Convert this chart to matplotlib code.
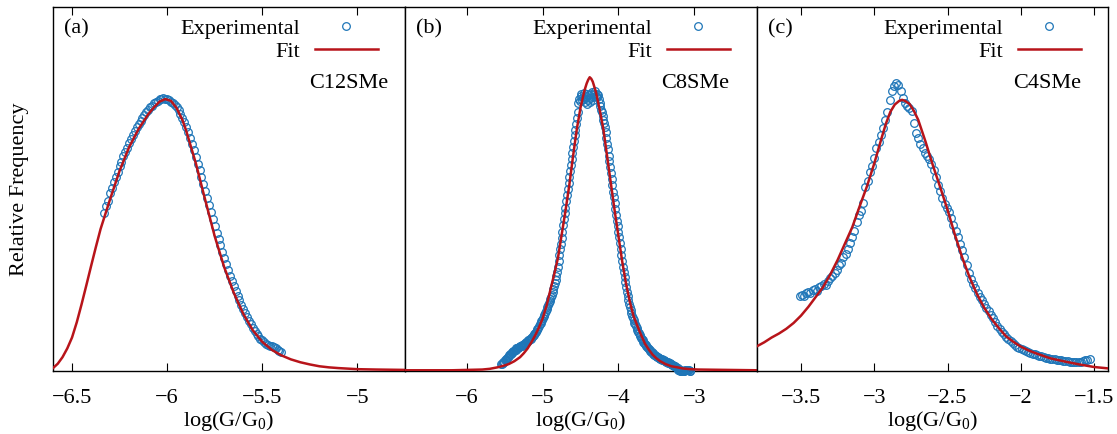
import numpy as np
import matplotlib
matplotlib.use("Agg")
import matplotlib.pyplot as plt
from matplotlib.ticker import FuncFormatter

plt.rcParams['font.family'] = 'Liberation Serif'
plt.rcParams['mathtext.fontset'] = 'custom'
plt.rcParams['mathtext.rm'] = 'Liberation Serif'
plt.rcParams['mathtext.default'] = 'regular'

# ---- data (relative frequency, arbitrary units) ----
# experimental histograms: first bin centre, bin width, counts
exp_a_start, exp_a_step = -6.33, 0.01
exp_a = [0.435, 0.452, 0.468, 0.488, 0.503, 0.518, 0.532, 0.547, 0.562, 0.575,
         0.590, 0.602, 0.614, 0.627, 0.638, 0.648, 0.660, 0.669, 0.678, 0.688,
         0.695, 0.704, 0.711, 0.717, 0.724, 0.729, 0.735, 0.739, 0.742, 0.747,
         0.748, 0.750, 0.748, 0.747, 0.744, 0.740, 0.736, 0.730, 0.724, 0.716,
         0.706, 0.695, 0.684, 0.670, 0.656, 0.640, 0.624, 0.607, 0.589, 0.570,
         0.551, 0.532, 0.513, 0.494, 0.474, 0.455, 0.436, 0.418, 0.398, 0.380,
         0.362, 0.345, 0.328, 0.310, 0.294, 0.278, 0.262, 0.248, 0.234, 0.220,
         0.207, 0.194, 0.182, 0.170, 0.159, 0.148, 0.138, 0.128, 0.119, 0.111,
         0.103, 0.096, 0.089, 0.084, 0.079, 0.075, 0.072, 0.070, 0.068, 0.066,
         0.063, 0.059, 0.055, 0.051]

exp_b_start, exp_b_step = -5.55, 0.01
exp_b = [0.018, 0.020, 0.022, 0.024, 0.026, 0.029, 0.031, 0.034, 0.036, 0.039,
         0.041, 0.043, 0.046, 0.047, 0.049, 0.052, 0.054, 0.056, 0.057, 0.059,
         0.062, 0.063, 0.064, 0.066, 0.067, 0.068, 0.068, 0.070, 0.071, 0.072,
         0.073, 0.075, 0.077, 0.079, 0.080, 0.082, 0.084, 0.086, 0.088, 0.089,
         0.091, 0.093, 0.095, 0.098, 0.101, 0.104, 0.108, 0.112, 0.115, 0.119,
         0.124, 0.128, 0.132, 0.137, 0.141, 0.146, 0.150, 0.155, 0.159, 0.164,
         0.169, 0.175, 0.180, 0.186, 0.192, 0.198, 0.203, 0.210, 0.217, 0.225,
         0.233, 0.241, 0.250, 0.260, 0.272, 0.287, 0.302, 0.318, 0.334, 0.350,
         0.366, 0.383, 0.400, 0.417, 0.433, 0.449, 0.466, 0.483, 0.500, 0.517,
         0.533, 0.550, 0.566, 0.582, 0.599, 0.615, 0.632, 0.648, 0.663, 0.679,
         0.694, 0.712, 0.735, 0.748, 0.741, 0.755, 0.760, 0.745, 0.752, 0.764,
         0.748, 0.740, 0.755, 0.762, 0.733, 0.745, 0.758, 0.750, 0.738, 0.760,
         0.766, 0.752, 0.745, 0.762, 0.768, 0.755, 0.760, 0.752, 0.758, 0.748,
         0.735, 0.728, 0.718, 0.712, 0.700, 0.690, 0.682, 0.670, 0.656, 0.640,
         0.625, 0.610, 0.592, 0.578, 0.560, 0.545, 0.528, 0.512, 0.493, 0.478,
         0.462, 0.446, 0.428, 0.413, 0.397, 0.382, 0.367, 0.352, 0.335, 0.318,
         0.302, 0.287, 0.272, 0.258, 0.244, 0.230, 0.218, 0.206, 0.195, 0.185,
         0.176, 0.168, 0.160, 0.152, 0.145, 0.139, 0.133, 0.128, 0.123, 0.118,
         0.113, 0.108, 0.104, 0.100, 0.096, 0.092, 0.088, 0.085, 0.081, 0.078,
         0.074, 0.071, 0.068, 0.065, 0.062, 0.060, 0.057, 0.055, 0.053, 0.051,
         0.049, 0.047, 0.045, 0.044, 0.042, 0.041, 0.039, 0.038, 0.037, 0.035,
         0.034, 0.033, 0.032, 0.031, 0.030, 0.029, 0.028, 0.027, 0.026, 0.025,
         0.024, 0.023, 0.022, 0.021, 0.019, 0.018, 0.017, 0.016, 0.015, 0.014,
         0.013, 0.011, 0.009, 0.007, 0.004, 0.002, 0.000, 0.001, 0.002, 0.001,
         0.000, 0.000, 0.001, 0.002, 0.003, 0.004, 0.004, 0.003, 0.002, 0.001,
         0.000]

exp_c_start, exp_c_step = -3.51, 0.015
exp_c = [0.205, 0.210, 0.207, 0.214, 0.218, 0.215, 0.222, 0.225, 0.221, 0.230,
         0.234, 0.238, 0.236, 0.248, 0.255, 0.262, 0.270, 0.278, 0.290, 0.298,
         0.312, 0.322, 0.336, 0.352, 0.368, 0.385, 0.410, 0.428, 0.440, 0.462,
         0.505, 0.522, 0.548, 0.562, 0.585, 0.612, 0.630, 0.648, 0.668, 0.690,
         0.712, 0.745, 0.770, 0.782, 0.790, 0.785, 0.770, 0.750, 0.735, 0.728,
         0.722, 0.715, 0.680, 0.655, 0.640, 0.625, 0.612, 0.600, 0.592, 0.582,
         0.568, 0.552, 0.532, 0.512, 0.495, 0.475, 0.458, 0.448, 0.436, 0.420,
         0.402, 0.385, 0.368, 0.350, 0.332, 0.312, 0.292, 0.270, 0.252, 0.240,
         0.228, 0.215, 0.204, 0.194, 0.183, 0.174, 0.164, 0.155, 0.146, 0.135,
         0.124, 0.116, 0.108, 0.101, 0.094, 0.088, 0.082, 0.077, 0.072, 0.067,
         0.064, 0.061, 0.058, 0.055, 0.052, 0.050, 0.048, 0.046, 0.044, 0.042,
         0.040, 0.038, 0.037, 0.036, 0.034, 0.033, 0.032, 0.031, 0.030, 0.029,
         0.028, 0.027, 0.027, 0.026, 0.026, 0.025, 0.026, 0.025, 0.026, 0.027,
         0.029, 0.031, 0.032]

# fitted curves
fit_a_x = [-6.600, -6.575, -6.550, -6.525, -6.500, -6.475, -6.450, -6.425,
           -6.400, -6.375, -6.350, -6.30, -6.25, -6.20, -6.15, -6.10, -6.07,
           -6.04, -6.01, -5.98, -5.95, -5.92, -5.90, -5.85, -5.80, -5.75, -5.70,
           -5.65, -5.60, -5.55, -5.50, -5.45, -5.40, -5.35, -5.30, -5.25, -5.20,
           -5.15, -5.10, -5.00, -4.90, -4.75]
fit_a_y = [0.008, 0.020, 0.038, 0.062, 0.092, 0.134, 0.183, 0.235,
           0.288, 0.340, 0.390, 0.472, 0.550, 0.615, 0.665, 0.705, 0.724,
           0.740, 0.747, 0.742, 0.722, 0.690, 0.660, 0.572, 0.470, 0.370, 0.285,
           0.215, 0.157, 0.112, 0.080, 0.058, 0.043, 0.032, 0.024, 0.018, 0.013,
           0.010, 0.008, 0.005, 0.004, 0.003]

fit_b_x = [-6.82, -6.20, -5.80, -5.70, -5.60, -5.525, -5.45, -5.375, -5.30,
           -5.25, -5.20, -5.15, -5.10, -5.05, -5.00, -4.95, -4.90, -4.85, -4.80,
           -4.75, -4.70, -4.65, -4.60, -4.55, -4.50, -4.45, -4.42, -4.40, -4.38,
           -4.36, -4.34, -4.30, -4.25, -4.20, -4.15, -4.10, -4.05, -4.00, -3.95,
           -3.90, -3.85, -3.80, -3.72, -3.65, -3.60, -3.55, -3.50, -3.45, -3.38,
           -3.30, -3.22, -3.15, -3.05, -2.95, -2.17]
fit_b_y = [0.002, 0.002, 0.004, 0.006, 0.010, 0.014, 0.019, 0.027, 0.038,
           0.049, 0.062, 0.079, 0.098, 0.120, 0.145, 0.180, 0.222, 0.265, 0.310,
           0.375, 0.440, 0.510, 0.590, 0.665, 0.725, 0.770, 0.790, 0.800, 0.807,
           0.803, 0.795, 0.768, 0.720, 0.665, 0.590, 0.515, 0.440, 0.370, 0.300,
           0.240, 0.190, 0.150, 0.108, 0.075, 0.059, 0.045, 0.035, 0.027, 0.019,
           0.013, 0.010, 0.007, 0.005, 0.004, 0.002]

fit_c_x = [-3.80, -3.75, -3.70, -3.65, -3.60, -3.55, -3.50, -3.45, -3.40, -3.35,
           -3.30, -3.25, -3.20, -3.15, -3.10, -3.05, -3.00, -2.95, -2.92, -2.89,
           -2.86, -2.83, -2.81, -2.79, -2.76, -2.73, -2.70, -2.65, -2.60, -2.55,
           -2.50, -2.45, -2.40, -2.35, -2.30, -2.25, -2.20, -2.15, -2.10, -2.05,
           -2.00, -1.95, -1.90, -1.80, -1.70, -1.60, -1.50, -1.40]
fit_c_y = [0.068, 0.079, 0.092, 0.103, 0.116, 0.132, 0.152, 0.176, 0.203, 0.230,
           0.265, 0.305, 0.350, 0.395, 0.452, 0.507, 0.570, 0.640, 0.680, 0.712,
           0.732, 0.742, 0.745, 0.742, 0.734, 0.715, 0.690, 0.630, 0.565, 0.505,
           0.443, 0.375, 0.312, 0.258, 0.212, 0.174, 0.143, 0.118, 0.095, 0.080,
           0.067, 0.057, 0.049, 0.035, 0.026, 0.018, 0.011, 0.007]

panel_tags = ['(a)', '(b)', '(c)']
molecules = ['C12SMe', 'C8SMe', 'C4SMe']
xlims = [(-6.60, -4.75), (-6.82, -2.17), (-3.80, -1.405)]
xticks = [[-6.5, -6, -5.5, -5], [-6, -5, -4, -3], [-3.5, -3, -2.5, -2, -1.5]]

blue = '#1f76b8'
red = '#b8141a'

fig = plt.figure(figsize=(11.17, 4.34), dpi=100)
W, H = 1117, 434
lefts = [53, 405, 757]
widths = [352, 352, 351]

exps = [(exp_a_start, exp_a_step, exp_a), (exp_b_start, exp_b_step, exp_b),
        (exp_c_start, exp_c_step, exp_c)]
fits = [(fit_a_x, fit_a_y), (fit_b_x, fit_b_y), (fit_c_x, fit_c_y)]

fmt = FuncFormatter(lambda v, p: ('%g' % v).replace('-', '\u2212'))

for i in range(3):
    ax = fig.add_axes([lefts[i] / W, (H - 371) / H, widths[i] / W, 364 / H])
    start, step, counts = exps[i]
    ex = start + step * np.arange(len(counts))
    ax.plot(ex, counts, 'o', mfc='none', mec=blue, ms=5.5, mew=0.9,
            clip_on=False, zorder=3, label='Experimental')
    ax.plot(fits[i][0], fits[i][1], color=red, lw=1.8, zorder=4, label='Fit')

    ax.set_xlim(*xlims[i])
    ax.set_ylim(0, 1)
    ax.set_yticks([])
    ax.set_xticks(xticks[i])
    ax.xaxis.set_major_formatter(fmt)
    ax.tick_params(axis='x', direction='in', top=True, length=6, width=0.8,
                   labelsize=16, pad=13)
    for s in ax.spines.values():
        s.set_linewidth(1.0)
    ax.set_xlabel('log(G/G$_0$)', fontsize=16, labelpad=1)

    ax.legend(loc='upper right', bbox_to_anchor=(0.923, 0.968), frameon=False,
              markerfirst=False, handlelength=2.84, handletextpad=0.68,
              labelspacing=0.08, borderpad=0, borderaxespad=0, fontsize=16,
              numpoints=1)
    ax.text(0.031, 0.94, panel_tags[i], transform=ax.transAxes, ha='left',
            va='center', fontsize=16)
    ax.text(0.729, 0.79, molecules[i], transform=ax.transAxes, ha='left',
            va='center', fontsize=16)

fig.text(20 / W, 1 - 189 / H, 'Relative Frequency', rotation=90,
         ha='center', va='center', fontsize=16)

fig.savefig('out.png', dpi=100)
